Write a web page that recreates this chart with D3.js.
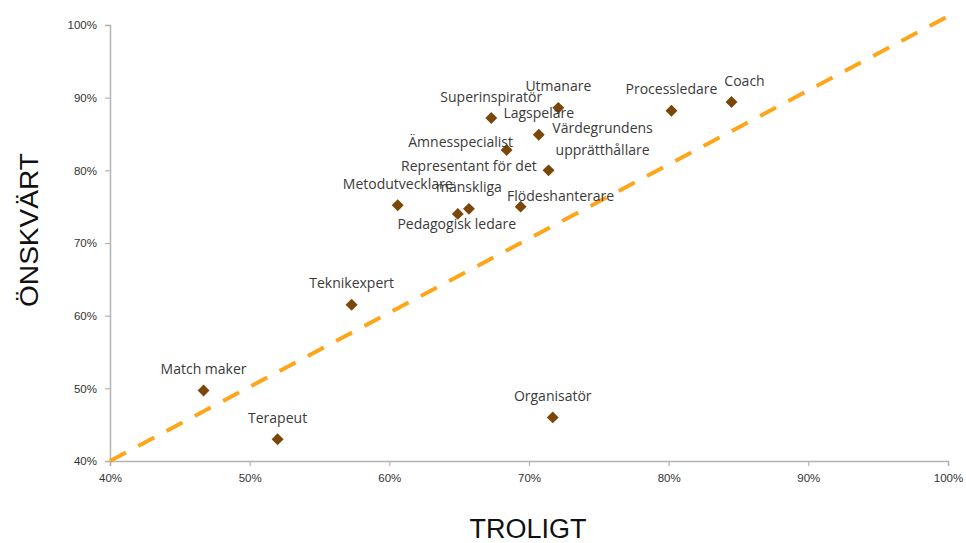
<!DOCTYPE html>
<html>
<head>
<meta charset="utf-8">
<script src="https://cdn.jsdelivr.net/npm/d3@7"></script>
<style>
  html, body { margin: 0; padding: 0; background: #ffffff; }
  svg { display: block; }
</style>
</head>
<body>
<div id="chart"></div>
<script>
// ---- Data ----
const names = [
  "Coach", "Processledare", "Utmanare", "Superinspiratör", "Lagspelare",
  "Ämnesspecialist", "Värdegrundens upprätthållare", "Metodutvecklare",
  "Pedagogisk ledare", "Representant för det mänskliga", "Flödeshanterare",
  "Teknikexpert", "Match maker", "Terapeut", "Organisatör"
];
const troligt = [84.5, 80.2, 72.1, 67.3, 70.7, 68.4, 71.4, 60.6, 64.9, 65.7, 69.4, 57.3, 46.7, 52.0, 71.7];
const onskvart = [89.4, 88.2, 88.6, 87.2, 84.9, 82.8, 80.0, 75.2, 74.0, 74.7, 75.0, 61.5, 49.7, 43.0, 46.0];
const xTicks = [40, 50, 60, 70, 80, 90, 100];
const yTicks = [40, 50, 60, 70, 80, 90, 100];
const refLine = [[40, 40], [100, 101.2]];

// ---- Label placement (layout only) ----
const labelLines = {
  "Värdegrundens upprätthållare": ["Värdegrundens", "upprätthållare"],
  "Representant för det mänskliga": ["Representant för det", "mänskliga"]
};
const labelOffset = {
  "Coach": [13, -22],
  "Ämnesspecialist": [-46, -8],
  "Värdegrundens upprätthållare": [54, -21],
  "Pedagogisk ledare": [-1, 10],
  "Flödeshanterare": [40, -11]
};

const W = 966, H = 543;
const svg = d3.select("#chart").append("svg").attr("width", W).attr("height", H);

const x = d3.scaleLinear().domain([40, 100]).range([110, 948]);
const y = d3.scaleLinear().domain([40, 100]).range([461, 25]);

const axisColor = "#b3b3b3";
const tickFont = "'Liberation Sans', Arial, sans-serif";

// X axis
const gx = svg.append("g").attr("transform", `translate(0,${y(40)})`)
  .call(d3.axisBottom(x).tickValues(xTicks).tickFormat(d => d + "%").tickSize(5).tickPadding(8));
// Y axis
const gy = svg.append("g").attr("transform", `translate(${x(40)},0)`)
  .call(d3.axisLeft(y).tickValues(yTicks).tickFormat(d => d + "%").tickSize(5).tickPadding(8));
[gx, gy].forEach(g => {
  g.select(".domain").attr("stroke", axisColor).attr("stroke-width", 1.5);
  g.selectAll(".tick line").attr("stroke", axisColor).attr("stroke-width", 1.2);
  g.selectAll(".tick text").attr("fill", "#333333").style("font-family", tickFont).style("font-size", "11.5px");
});

// Reference dashed line
svg.append("line")
  .attr("x1", x(refLine[0][0])).attr("y1", y(refLine[0][1]))
  .attr("x2", x(refLine[1][0])).attr("y2", y(refLine[1][1]))
  .attr("stroke", "#ffa51a").attr("stroke-width", 4)
  .attr("stroke-dasharray", "18,14");

// Points
const data = names.map((n, i) => ({ name: n, tx: troligt[i], oy: onskvart[i] }));
svg.append("g").selectAll("path").data(data).enter().append("path")
  .attr("d", d3.symbol().type(d3.symbolDiamond2).size(90))
  .attr("transform", d => `translate(${x(d.tx)},${y(d.oy)})`)
  .attr("fill", "#7a4708");

// Labels
const lab = svg.append("g").style("font-family", "'Open Sans', Lato, sans-serif")
  .style("font-size", "14px").attr("fill", "#3a3a3a");
data.forEach(d => {
  const lines = labelLines[d.name] || [d.name];
  const off = labelOffset[d.name] || [0, -22];
  const cx = x(d.tx) + off[0];
  const lastY = y(d.oy) + off[1];
  lines.forEach((ln, j) => {
    lab.append("text")
      .attr("x", cx)
      .attr("y", lastY - (lines.length - 1 - j) * 21.5)
      .attr("text-anchor", "middle")
      .attr("dominant-baseline", "central")
      .text(ln);
  });
});

// Axis titles
svg.append("text")
  .attr("x", 528).attr("y", 529)
  .attr("text-anchor", "middle").attr("dominant-baseline", "central")
  .style("font-family", "'Liberation Sans', Arial, sans-serif").style("font-size", "27px")
  .attr("fill", "#111111").text("TROLIGT");
svg.append("text")
  .attr("transform", "translate(29,230) rotate(-90)")
  .attr("text-anchor", "middle").attr("dominant-baseline", "central")
  .attr("textLength", 154).attr("lengthAdjust", "spacingAndGlyphs")
  .style("font-family", "'Liberation Sans', Arial, sans-serif").style("font-size", "26px")
  .attr("fill", "#111111").text("ÖNSKVÄRT");
</script>
</body>
</html>
